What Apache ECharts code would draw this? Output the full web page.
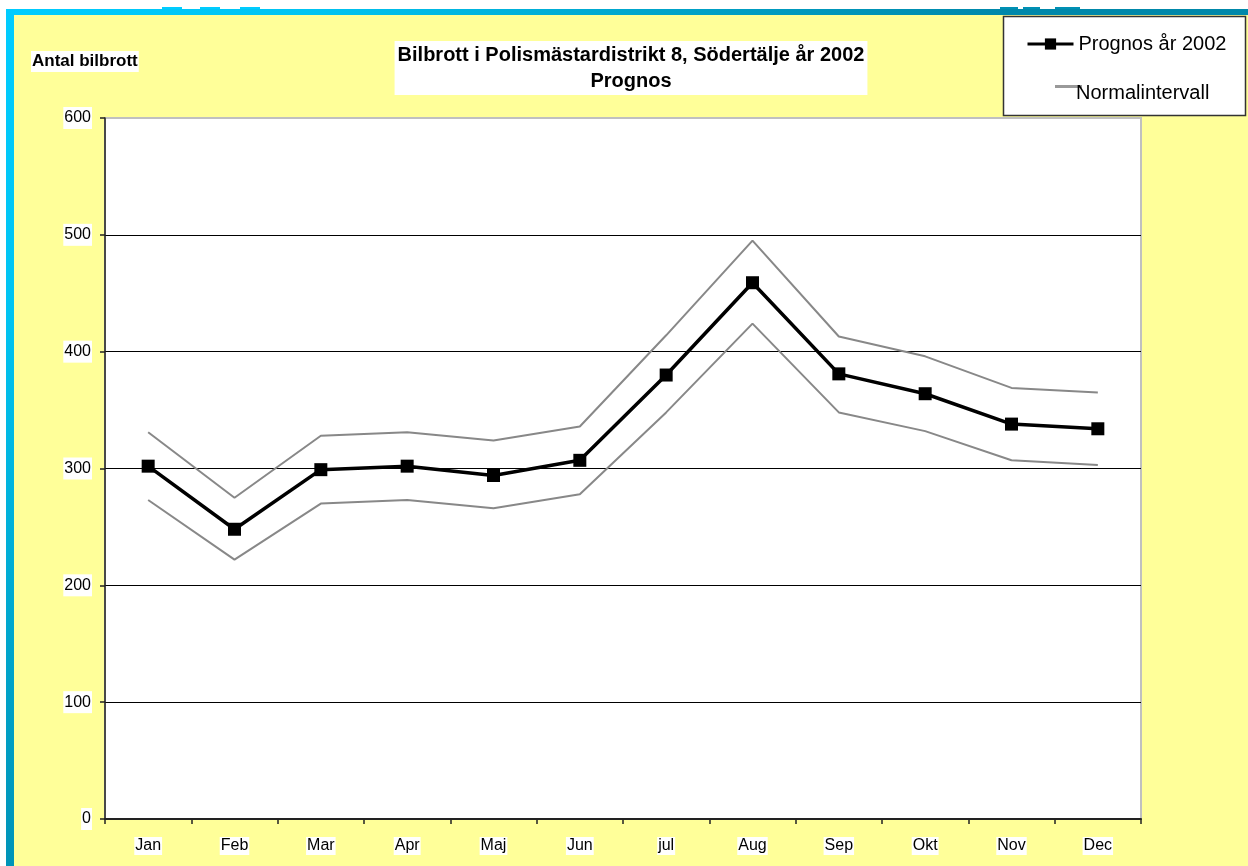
<!DOCTYPE html>
<html>
<head>
<meta charset="utf-8">
<script src="https://cdn.jsdelivr.net/npm/echarts@6/dist/echarts.min.js"></script>
<style>
html,body{margin:0;padding:0;background:#fff;width:1248px;height:866px;overflow:hidden;}
#frame{position:absolute;left:6px;top:9px;width:1242px;height:857px;
 background:radial-gradient(circle at 0 0,#00ccff 0px,#00c4f2 300px,#00a4ca 650px,#0088aa 1000px);}
#inner{position:absolute;left:14px;top:15px;width:1234px;height:851px;background:#ffff99;}
.dash{position:absolute;top:7px;height:2px;}
#chart{position:absolute;left:0;top:0;width:1248px;height:866px;}
</style>
</head>
<body>
<div id="frame"></div>
<div id="inner"></div>
<div class="dash" style="left:162px;width:20px;background:#00ccff"></div>
<div class="dash" style="left:200px;width:20px;background:#00ccff"></div>
<div class="dash" style="left:240px;width:20px;background:#00ccff"></div>
<div class="dash" style="left:1000px;width:18px;background:#0090b4"></div>
<div class="dash" style="left:1023px;width:17px;background:#0090b4"></div>
<div class="dash" style="left:1055px;width:25px;background:#0090b4"></div>
<div id="chart"></div>
<script>
const months = ['Jan','Feb','Mar','Apr','Maj','Jun','jul','Aug','Sep','Okt','Nov','Dec'];
const prognos = [302, 248, 299, 302, 294, 307, 380, 459, 381, 364, 338, 334];
const upper   = [331, 275, 328, 331, 324, 336, 414, 495, 413, 396, 369, 365];
const lower   = [273, 222, 270, 273, 266, 278, 348, 424, 348, 332, 307, 303];
const yTicks  = [0, 100, 200, 300, 400, 500, 600];

const chart = echarts.init(document.getElementById('chart'), null, {renderer:'canvas'});
const font = 'Liberation Sans, Arial, sans-serif';
chart.setOption({
  animation:false,
  backgroundColor:'transparent',
  textStyle:{fontFamily:font},
  title:[
    {text:'Bilbrott i Polismästardistrikt 8, Södertälje år 2002\nPrognos',
     left:628, top:41, textAlign:'center', padding:[1,3,1,3], backgroundColor:'#fff',
     textStyle:{fontFamily:font,fontSize:20,fontWeight:'bold',color:'#000',lineHeight:26}},
    {text:'Antal bilbrott', left:31, top:51, padding:[2,1,2,1], backgroundColor:'#fff',
     textStyle:{fontFamily:font,fontSize:17,fontWeight:'bold',color:'#000'}}
  ],
  graphic:[
    {type:'rect', z:0, shape:{x:1003.5,y:16.5,width:242,height:99},
     style:{fill:'#fff',stroke:'#333',lineWidth:1.5}},
    {type:'rect', z:11, shape:{x:1055,y:85,width:27,height:3}, style:{fill:'#999'}},
    {type:'text', z:12, x:1076, y:93, style:{text:'Normalintervall', fill:'#000',
      font:'20px Liberation Sans, Arial, sans-serif', verticalAlign:'middle', align:'left'}}
  ],
  legend:[
    {data:['Prognos år 2002'], left:1026, top:34, padding:0, itemWidth:46, itemHeight:14, itemGap:0, z:10,
     lineStyle:{width:3}, textStyle:{fontFamily:font,fontSize:20,color:'#000'}}
  ],
  grid:{left:105, top:118, width:1036, height:701, show:true, backgroundColor:'#fff',
        borderColor:'#c0c0c0', borderWidth:2},
  xAxis:{type:'category', data:months, boundaryGap:true,
    axisLine:{lineStyle:{color:'#222',width:2}},
    axisTick:{show:true,length:5,alignWithLabel:false,lineStyle:{color:'#222',width:1.5}},
    axisLabel:{fontFamily:font,fontSize:16,color:'#000',margin:18,backgroundColor:'#fff',padding:[1,1,1,1]},
    splitLine:{show:false}},
  yAxis:{type:'value', min:yTicks[0], max:yTicks[yTicks.length-1], interval:100,
    axisLine:{show:true,lineStyle:{color:'#222',width:1.5}},
    axisTick:{show:true,length:5,lineStyle:{color:'#222',width:1.5}},
    axisLabel:{fontFamily:font,fontSize:16,color:'#000',margin:13,backgroundColor:'#fff',padding:[6,1,0,1]},
    splitLine:{show:true,showMaxLine:false,lineStyle:{color:'#000',width:1}}},
  series:[
    {name:'Normalintervall', type:'line', data:upper, symbol:'none', z:3,
     lineStyle:{color:'#888',width:2}, itemStyle:{color:'#888'}},
    {name:'Normalintervall', type:'line', data:lower, symbol:'none', z:3,
     lineStyle:{color:'#888',width:2}, itemStyle:{color:'#888'}},
    {name:'Prognos år 2002', type:'line', data:prognos, symbol:'rect', symbolSize:13, z:4,
     lineStyle:{color:'#000',width:3.5}, itemStyle:{color:'#000'}}
  ]
});
</script>
</body>
</html>
